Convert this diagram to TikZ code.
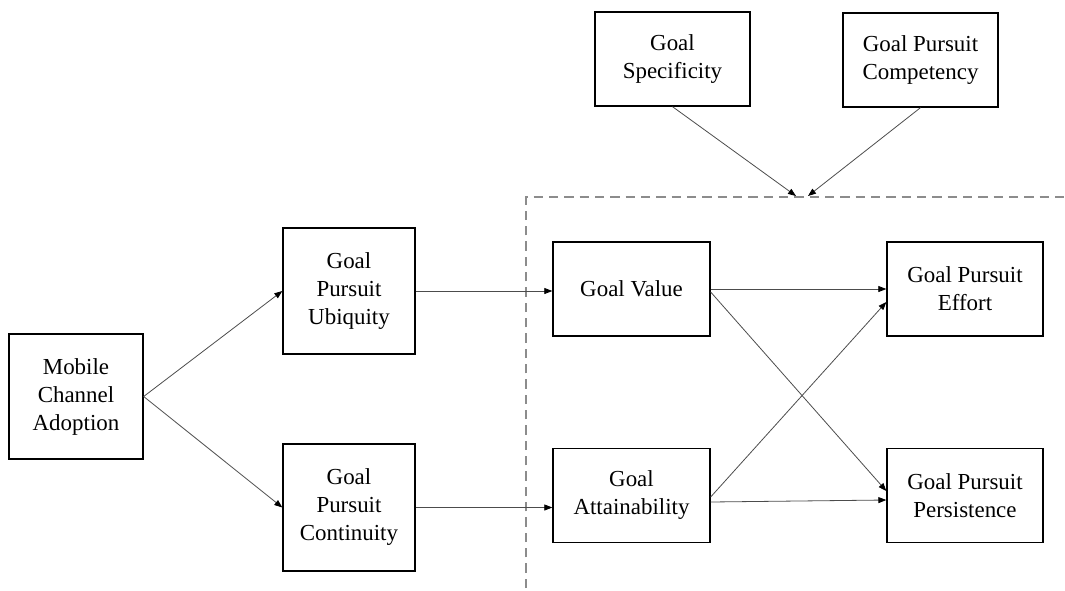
\documentclass[tikz,border=0pt]{standalone}
\usepackage{fontspec}
\setmainfont{Liberation Serif}
\usetikzlibrary{arrows.meta,calc}
\begin{document}
\begin{tikzpicture}[x=0.75pt,y=-0.75pt,
  box/.style={draw=black, line width=1pt, align=center, inner sep=0pt,
              font=\fontsize{17.2}{21}\selectfont},
  link/.style={draw=black!70, line width=0.6pt,
               -{Triangle[length=6pt,width=4.5pt,color=black]}},
  frame/.style={draw=black!45, line width=0.9pt, dash pattern=on 7pt off 4.5pt}]
\useasboundingbox (0,0) rectangle (1065,590);

% moderators
\node[box, minimum width=116.25pt, minimum height=70.5pt] (spec) at (672.5,59) {Goal\\Specificity};
\node[box, minimum width=116.25pt, minimum height=70.5pt] (comp) at (920.5,60) {Goal Pursuit\\Competency};

% main path
\node[box, minimum width=100.5pt, minimum height=93.75pt] (mca) at (76,396.5) {Mobile\\Channel\\Adoption};
\node[box, minimum width=99pt, minimum height=94.5pt] (ubiq) at (349,291) {Goal\\Pursuit\\Ubiquity};
\node[box, minimum width=99pt, minimum height=95.25pt] (cont) at (349,507.5) {Goal\\Pursuit\\Continuity};
\node[box, minimum width=117.75pt, minimum height=70.5pt] (val) at (631.5,289) {Goal Value};
\node[box, minimum width=117.75pt, minimum height=70.5pt] (att) at (631.5,495.5) {Goal\\Attainability};
\node[box, minimum width=117pt, minimum height=70.5pt] (eff) at (965,289) {Goal Pursuit\\Effort};
\node[box, minimum width=117pt, minimum height=70.5pt] (per) at (965,495.5) {Goal Pursuit\\Persistence};

% moderated region
\coordinate (fb) at (526,588);
\coordinate (fc) at (526,197);
\coordinate (fr) at (1065,197);
\draw[frame] (fb) -- (fc) -- (fr);
\coordinate (specin) at (796,196);
\coordinate (compin) at (808,196);

% connectors
\draw[link] (mca.east) -- (ubiq.west);
\draw[link] (mca.east) -- (cont.west);
\draw[link] (ubiq.east) -- (ubiq.east -| val.west);
\draw[link] (cont.east) -- (cont.east -| att.west);
\draw[link] (val.east) -- (eff.west);
\draw[link] ($(val.east)+(0,3)$) -- ($(per.west)+(0,-4.5)$);
\draw[link] ($(att.east)+(0,1.5)$) -- ($(eff.west)+(0,13)$);
\draw[link] ($(att.east)+(0,6.5)$) -- ($(per.west)+(0,4.5)$);
\draw[link] (spec.south) -- (specin);
\draw[link] (comp.south) -- (compin);
\end{tikzpicture}
\end{document}
